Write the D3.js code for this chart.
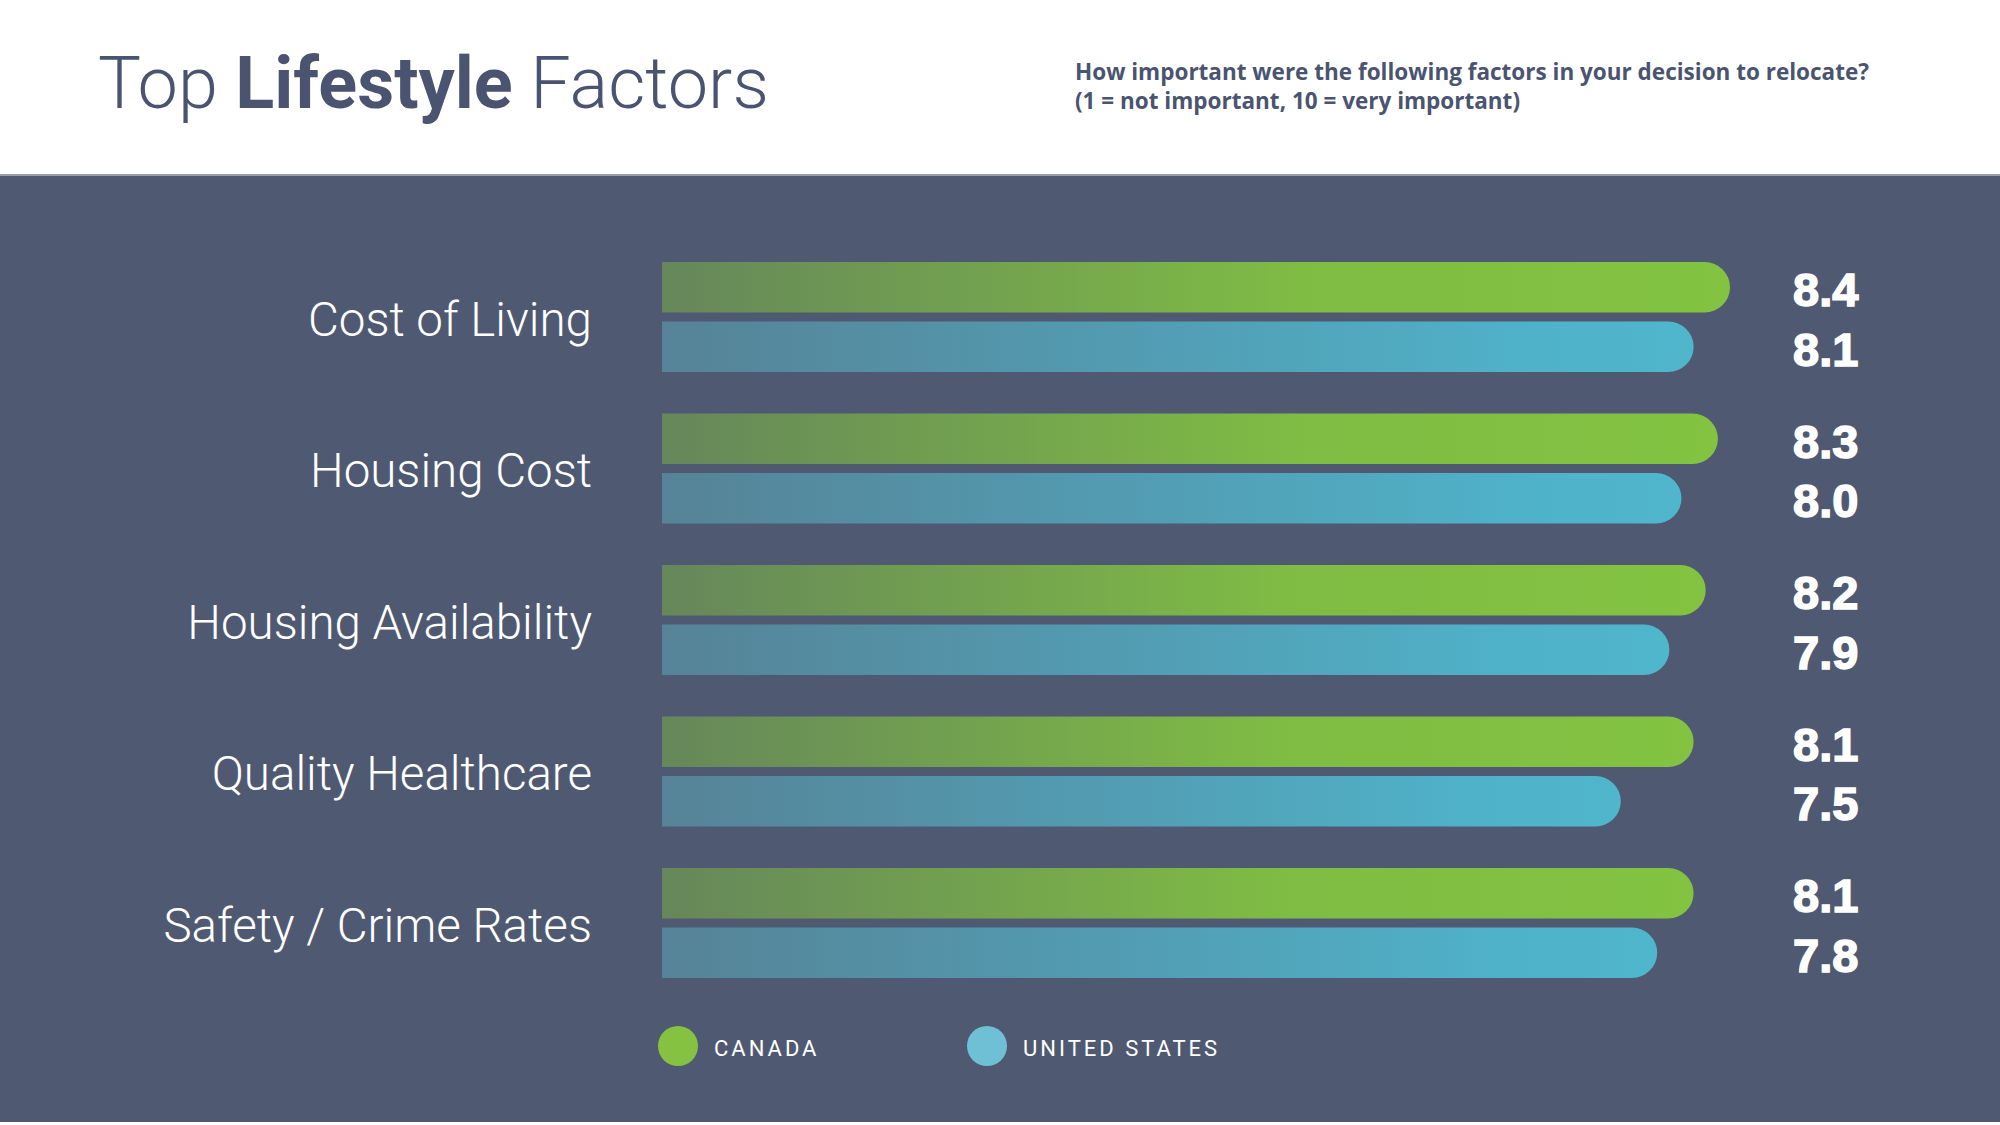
<!DOCTYPE html>
<html>
<head>
<meta charset="utf-8">
<script src="https://cdn.jsdelivr.net/npm/d3@7"></script>
<style>
  html, body { margin: 0; padding: 0; background: #ffffff; }
  svg { display: block; }
</style>
</head>
<body>
<div id="chart"></div>
<script>
// data
const categories = ["Cost of Living", "Housing Cost", "Housing Availability", "Quality Healthcare", "Safety / Crime Rates"];
const canada = [8.4, 8.3, 8.2, 8.1, 8.1];
const unitedStates = [8.1, 8.0, 7.9, 7.5, 7.8];
const seriesNames = ["CANADA", "UNITED STATES"];

function drawChart() {
    const W = 2000, H = 1125;
    const ink = "#4a5470";

    const svg = d3.select("#chart")
        .append("svg")
        .attr("width", W)
        .attr("height", H)
        .attr("viewBox", "0 0 " + W + " " + H);

    // header + dark panel
    svg.append("rect").attr("width", W).attr("height", H).attr("fill", "#ffffff");
    svg.append("rect").attr("x", 0).attr("y", 175).attr("width", W).attr("height", 947).attr("fill", "#4f5a72");
    svg.append("line").attr("x1", 0).attr("x2", W).attr("y1", 175).attr("y2", 175)
        .attr("stroke", "#9a9ea8").attr("stroke-width", 2);

    // title
    const title = svg.append("text")
        .attr("x", 98).attr("y", 108)
        .attr("font-family", "Roboto")
        .attr("font-size", 72)
        .attr("fill", ink);
    title.append("tspan").attr("font-weight", 300).text("Top ");
    title.append("tspan").attr("font-weight", 700).text("Lifestyle");
    title.append("tspan").attr("font-weight", 300).text(" Factors");

    // subtitle
    const sub = svg.append("text")
        .attr("font-family", "Open Sans")
        .attr("font-weight", 700)
        .attr("font-size", 22.5)
        .attr("fill", ink);
    sub.append("tspan").attr("x", 1075).attr("y", 80)
        .text("How important were the following factors in your decision to relocate?");
    sub.append("tspan").attr("x", 1075).attr("y", 109)
        .text("(1 = not important, 10 = very important)");

    const data = categories.map(function(c, i) {
        return {category: c, values: [canada[i], unitedStates[i]]};
    });

    // scales
    const x = d3.scaleLinear().domain([-0.4, 8.4]).range([662, 1730]);
    const y = d3.scaleBand().domain(categories).range([262, 978]).paddingInner(0.274);
    const ySub = d3.scaleBand().domain(seriesNames).range([0, y.bandwidth()]).paddingInner(0.151);

    // gradients
    const defs = svg.append("defs");
    const grads = [
        {id: "gCanada", from: "#66875a", mid: "#7fbc44", to: "#83c341", stop: 0.6},
        {id: "gUS", from: "#568397", mid: "#4fb2c9", to: "#4fb6cc", stop: 0.85}
    ];
    grads.forEach(function(g) {
        const lg = defs.append("linearGradient").attr("id", g.id)
            .attr("x1", "0%").attr("x2", "100%").attr("y1", "0%").attr("y2", "0%");
        lg.append("stop").attr("offset", "0%").attr("stop-color", g.from);
        lg.append("stop").attr("offset", (g.stop * 100) + "%").attr("stop-color", g.mid);
        lg.append("stop").attr("offset", "100%").attr("stop-color", g.to);
    });
    const fills = ["url(#gCanada)", "url(#gUS)"];

    // bar with flat left end and round right end
    function barPath(x0, x1, y0, h) {
        const r = h / 2;
        const p = d3.path();
        p.moveTo(x0, y0);
        p.lineTo(x1 - r, y0);
        p.arc(x1 - r, y0 + r, r, -Math.PI / 2, Math.PI / 2);
        p.lineTo(x0, y0 + h);
        p.closePath();
        return p.toString();
    }

    const groups = svg.append("g")
        .selectAll("g")
        .data(data)
        .enter()
        .append("g")
        .attr("transform", function(d) { return "translate(0," + y(d.category) + ")"; });

    groups.selectAll("path")
        .data(function(d) { return d.values; })
        .enter()
        .append("path")
        .attr("d", function(v, i) { return barPath(x.range()[0], x(v), ySub(seriesNames[i]), ySub.bandwidth()); })
        .attr("fill", function(v, i) { return fills[i]; });

    // value labels
    groups.selectAll("text.val")
        .data(function(d) { return d.values; })
        .enter()
        .append("text")
        .attr("class", "val")
        .attr("x", 1793)
        .attr("y", function(v, i) { return ySub(seriesNames[i]) + ySub.bandwidth() / 2 + 19; })
        .attr("font-family", "Liberation Sans")
        .attr("font-weight", 700)
        .attr("font-size", 47)
        .attr("fill", "#ffffff")
        .attr("stroke", "#ffffff")
        .attr("stroke-width", 1.5)
        .text(function(v) { return d3.format(".1f")(v); });

    // category labels
    groups.append("text")
        .attr("x", 592)
        .attr("y", y.bandwidth() / 2 + 19)
        .attr("text-anchor", "end")
        .attr("font-family", "Roboto")
        .attr("font-weight", 300)
        .attr("font-size", 47.5)
        .attr("fill", "#ffffff")
        .text(function(d) { return d.category; });

    // legend
    const legendColors = ["#85c242", "#6fc0d5"];
    const legendX = d3.scalePoint().domain(seriesNames).range([678, 987]);
    const legend = svg.append("g")
        .selectAll("g")
        .data(seriesNames)
        .enter()
        .append("g")
        .attr("transform", function(d) { return "translate(" + legendX(d) + ",1046)"; });
    legend.append("circle")
        .attr("r", 20)
        .attr("fill", function(d, i) { return legendColors[i]; });
    legend.append("text")
        .attr("x", 36)
        .attr("y", 10)
        .attr("font-family", "Roboto")
        .attr("font-size", 22)
        .attr("letter-spacing", 3)
        .attr("fill", "#ffffff")
        .text(function(d) { return d; });
}

drawChart();
</script>
</body>
</html>
